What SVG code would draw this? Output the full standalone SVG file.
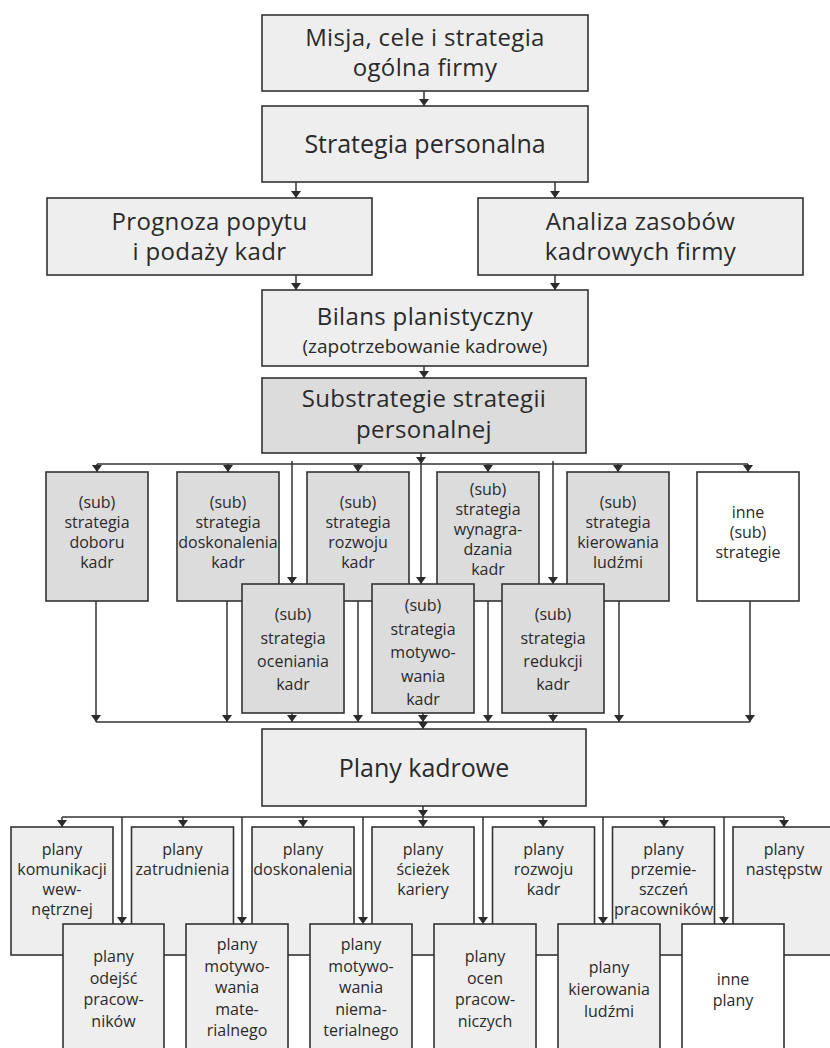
<svg xmlns="http://www.w3.org/2000/svg" width="830" height="1048" viewBox="0 0 830 1048">
<defs>
<marker id="ah" viewBox="0 0 7 10" refX="7" refY="5" markerWidth="7" markerHeight="10" markerUnits="userSpaceOnUse" orient="auto"><path d="M0,0 L7,5 L0,10 Z" fill="#2b2b2b"/></marker>
<style>
.bx{fill:#eeeeee;stroke:#333;stroke-width:1.6}
.dk{fill:#dcdcdd;stroke:#333;stroke-width:1.6}
.wh{fill:#ffffff;stroke:#333;stroke-width:1.6}
text{font-family:"Open Sans","Noto Sans","DejaVu Sans",sans-serif;fill:#2a2a2a;text-anchor:middle}
.t0{font-size:25px}
.t1{font-size:24px;letter-spacing:0.35px}
.t2{font-size:19px}
.s{font-size:16px}
.cn line{stroke:#333;stroke-width:1.5;fill:none}
.ar{marker-end:url(#ah)}
</style>
</defs>
<rect width="830" height="1048" fill="#fff"/>

<g id="misja"><rect class="bx" x="262" y="15" width="326" height="76"/>
<text class="t1" x="425" y="46">Misja, cele i strategia</text><text class="t1" x="425" y="76">ogólna firmy</text></g>
<g id="strategia"><rect class="bx" x="262" y="106" width="326" height="76"/>
<text class="t0" x="425" y="153">Strategia personalna</text></g>
<g id="prognoza"><rect class="bx" x="47" y="198" width="325" height="77"/>
<text class="t1" x="209.5" y="230">Prognoza popytu</text><text class="t1" x="209.5" y="260">i podaży kadr</text></g>
<g id="analiza"><rect class="bx" x="478" y="198" width="325" height="77"/>
<text class="t1" x="640.5" y="230">Analiza zasobów</text><text class="t1" x="640.5" y="260">kadrowych firmy</text></g>
<g id="bilans"><rect class="bx" x="262" y="290" width="326" height="76"/>
<text class="t1" x="425" y="325">Bilans planistyczny</text><text class="t2" x="425" y="353">(zapotrzebowanie kadrowe)</text></g>
<g id="substrategie"><rect class="dk" x="262" y="378" width="324" height="75"/>
<text class="t1" x="424" y="407">Substrategie strategii</text><text class="t1" x="424" y="438">personalnej</text></g>

<g id="sub-doboru"><rect class="dk" x="46" y="472" width="102" height="129"/>
<text class="s"><tspan x="97" y="508">(sub)</tspan><tspan x="97" y="528">strategia</tspan><tspan x="97" y="548">doboru</tspan><tspan x="97" y="568">kadr</tspan></text></g>
<g id="sub-doskonalenia"><rect class="dk" x="177" y="472" width="102" height="129"/>
<text class="s"><tspan x="228" y="508">(sub)</tspan><tspan x="228" y="528">strategia</tspan><tspan x="228" y="548">doskonalenia</tspan><tspan x="228" y="568">kadr</tspan></text></g>
<g id="sub-rozwoju"><rect class="dk" x="307" y="472" width="102" height="129"/>
<text class="s"><tspan x="358" y="508">(sub)</tspan><tspan x="358" y="528">strategia</tspan><tspan x="358" y="548">rozwoju</tspan><tspan x="358" y="568">kadr</tspan></text></g>
<g id="sub-wynagradzania"><rect class="dk" x="437" y="472" width="102" height="129"/>
<text class="s"><tspan x="488" y="495">(sub)</tspan><tspan x="488" y="515">strategia</tspan><tspan x="488" y="535">wynagra-</tspan><tspan x="488" y="555">dzania</tspan><tspan x="488" y="575">kadr</tspan></text></g>
<g id="sub-kierowania"><rect class="dk" x="567" y="472" width="102" height="129"/>
<text class="s"><tspan x="618" y="508">(sub)</tspan><tspan x="618" y="528">strategia</tspan><tspan x="618" y="548">kierowania</tspan><tspan x="618" y="568">ludźmi</tspan></text></g>
<g id="sub-inne"><rect class="wh" x="697" y="472" width="102" height="129"/>
<text class="s"><tspan x="748" y="518">inne</tspan><tspan x="748" y="538">(sub)</tspan><tspan x="748" y="558">strategie</tspan></text></g>

<g id="sub-oceniania"><rect class="dk" x="242" y="584" width="102" height="129"/>
<text class="s"><tspan x="293" y="620">(sub)</tspan><tspan x="293" y="643.5">strategia</tspan><tspan x="293" y="667">oceniania</tspan><tspan x="293" y="690">kadr</tspan></text></g>
<g id="sub-motywowania"><rect class="dk" x="372" y="584" width="102" height="129"/>
<text class="s"><tspan x="423" y="611">(sub)</tspan><tspan x="423" y="634.5">strategia</tspan><tspan x="423" y="658">motywo-</tspan><tspan x="423" y="681.5">wania</tspan><tspan x="423" y="705">kadr</tspan></text></g>
<g id="sub-redukcji"><rect class="dk" x="502" y="584" width="102" height="129"/>
<text class="s"><tspan x="553" y="620">(sub)</tspan><tspan x="553" y="643.5">strategia</tspan><tspan x="553" y="667">redukcji</tspan><tspan x="553" y="690">kadr</tspan></text></g>

<g id="plany-kadrowe"><rect class="bx" x="262" y="729" width="324" height="77"/>
<text class="t0" x="424" y="777">Plany kadrowe</text></g>

<g id="p-komunikacji"><rect class="bx" x="11" y="827" width="102" height="128"/>
<text class="s"><tspan x="62" y="855">plany</tspan><tspan x="62" y="875">komunikacji</tspan><tspan x="62" y="895">wew-</tspan><tspan x="62" y="915">nętrznej</tspan></text></g>
<g id="p-zatrudnienia"><rect class="bx" x="131.5" y="827" width="102" height="128"/>
<text class="s"><tspan x="182.5" y="855">plany</tspan><tspan x="182.5" y="875">zatrudnienia</tspan></text></g>
<g id="p-doskonalenia"><rect class="bx" x="252" y="827" width="102" height="128"/>
<text class="s"><tspan x="303" y="855">plany</tspan><tspan x="303" y="875">doskonalenia</tspan></text></g>
<g id="p-sciezek"><rect class="bx" x="372" y="827" width="102" height="128"/>
<text class="s"><tspan x="423" y="855">plany</tspan><tspan x="423" y="875">ścieżek</tspan><tspan x="423" y="895">kariery</tspan></text></g>
<g id="p-rozwoju"><rect class="bx" x="492.5" y="827" width="102" height="128"/>
<text class="s"><tspan x="543.5" y="855">plany</tspan><tspan x="543.5" y="875">rozwoju</tspan><tspan x="543.5" y="895">kadr</tspan></text></g>
<g id="p-przemieszczen"><rect class="bx" x="612.5" y="827" width="102" height="128"/>
<text class="s"><tspan x="663.5" y="855">plany</tspan><tspan x="663.5" y="875">przemie-</tspan><tspan x="663.5" y="895">szczeń</tspan><tspan x="663.5" y="915">pracowników</tspan></text></g>
<g id="p-nastepstw"><rect class="bx" x="733" y="827" width="102" height="128"/>
<text class="s"><tspan x="784" y="855">plany</tspan><tspan x="784" y="875">następstw</tspan></text></g>

<g id="p-odejsc"><rect class="bx" x="63" y="924" width="101" height="134"/>
<text class="s"><tspan x="113.5" y="962">plany</tspan><tspan x="113.5" y="983.5">odejść</tspan><tspan x="113.5" y="1005">pracow-</tspan><tspan x="113.5" y="1026.5">ników</tspan></text></g>
<g id="p-materialnego"><rect class="bx" x="186" y="924" width="102" height="134"/>
<text class="s"><tspan x="237" y="950">plany</tspan><tspan x="237" y="971.5">motywo-</tspan><tspan x="237" y="993">wania</tspan><tspan x="237" y="1014.5">mate-</tspan><tspan x="237" y="1036">rialnego</tspan></text></g>
<g id="p-niematerialnego"><rect class="bx" x="310" y="924" width="102" height="134"/>
<text class="s"><tspan x="361" y="950">plany</tspan><tspan x="361" y="971.5">motywo-</tspan><tspan x="361" y="993">wania</tspan><tspan x="361" y="1014.5">niema-</tspan><tspan x="361" y="1036">terialnego</tspan></text></g>
<g id="p-ocen"><rect class="bx" x="434" y="924" width="102" height="134"/>
<text class="s"><tspan x="485" y="962">plany</tspan><tspan x="485" y="983.5">ocen</tspan><tspan x="485" y="1005">pracow-</tspan><tspan x="485" y="1026.5">niczych</tspan></text></g>
<g id="p-kierowania"><rect class="bx" x="558" y="924" width="102" height="134"/>
<text class="s"><tspan x="609" y="973">plany</tspan><tspan x="609" y="995">kierowania</tspan><tspan x="609" y="1017">ludźmi</tspan></text></g>
<g id="p-inne"><rect class="wh" x="682" y="924" width="102" height="134"/>
<text class="s"><tspan x="733" y="985">inne</tspan><tspan x="733" y="1006">plany</tspan></text></g>

<g id="connectors" class="cn">
<line class="ar" x1="424" y1="91" x2="424" y2="106"/>
<line class="ar" x1="296" y1="182" x2="296" y2="198"/>
<line class="ar" x1="555" y1="182" x2="555" y2="198"/>
<line class="ar" x1="296" y1="275" x2="296" y2="290"/>
<line class="ar" x1="555" y1="275" x2="555" y2="290"/>
<line class="ar" x1="424" y1="366" x2="424" y2="378"/>
<line class="ar" x1="421" y1="453" x2="421" y2="464"/>
<line x1="97" y1="464" x2="748" y2="464"/>
<line class="ar" x1="97" y1="464" x2="97" y2="472"/>
<line class="ar" x1="228" y1="464" x2="228" y2="472"/>
<line class="ar" x1="358" y1="464" x2="358" y2="472"/>
<line class="ar" x1="488" y1="464" x2="488" y2="472"/>
<line class="ar" x1="618" y1="464" x2="618" y2="472"/>
<line class="ar" x1="748" y1="464" x2="748" y2="472"/>
<line class="ar" x1="292" y1="461" x2="292" y2="584"/>
<line class="ar" x1="421" y1="461" x2="421" y2="584"/>
<line class="ar" x1="553" y1="461" x2="553" y2="584"/>
<line class="ar" x1="96" y1="601" x2="96" y2="722"/>
<line class="ar" x1="227" y1="601" x2="227" y2="722"/>
<line class="ar" x1="358" y1="601" x2="358" y2="722"/>
<line class="ar" x1="488" y1="601" x2="488" y2="722"/>
<line class="ar" x1="619" y1="601" x2="619" y2="722"/>
<line class="ar" x1="750" y1="601" x2="750" y2="722"/>
<line class="ar" x1="292" y1="713" x2="292" y2="722"/>
<line class="ar" x1="423" y1="713" x2="423" y2="722"/>
<line class="ar" x1="553" y1="713" x2="553" y2="722"/>
<line x1="96" y1="722" x2="750" y2="722"/>
<line class="ar" x1="423" y1="722" x2="423" y2="729"/>
<line class="ar" x1="423" y1="806" x2="423" y2="817"/>
<line x1="62" y1="817" x2="784" y2="817"/>
<line class="ar" x1="62" y1="817" x2="62" y2="827"/>
<line class="ar" x1="183" y1="817" x2="183" y2="827"/>
<line class="ar" x1="303" y1="817" x2="303" y2="827"/>
<line class="ar" x1="423" y1="817" x2="423" y2="827"/>
<line class="ar" x1="543" y1="817" x2="543" y2="827"/>
<line class="ar" x1="664" y1="817" x2="664" y2="827"/>
<line class="ar" x1="784" y1="817" x2="784" y2="827"/>
<line class="ar" x1="122" y1="817" x2="122" y2="924"/>
<line class="ar" x1="242" y1="817" x2="242" y2="924"/>
<line class="ar" x1="363" y1="817" x2="363" y2="924"/>
<line class="ar" x1="483" y1="817" x2="483" y2="924"/>
<line class="ar" x1="603" y1="817" x2="603" y2="924"/>
<line class="ar" x1="724" y1="817" x2="724" y2="924"/>
</g>
</svg>
